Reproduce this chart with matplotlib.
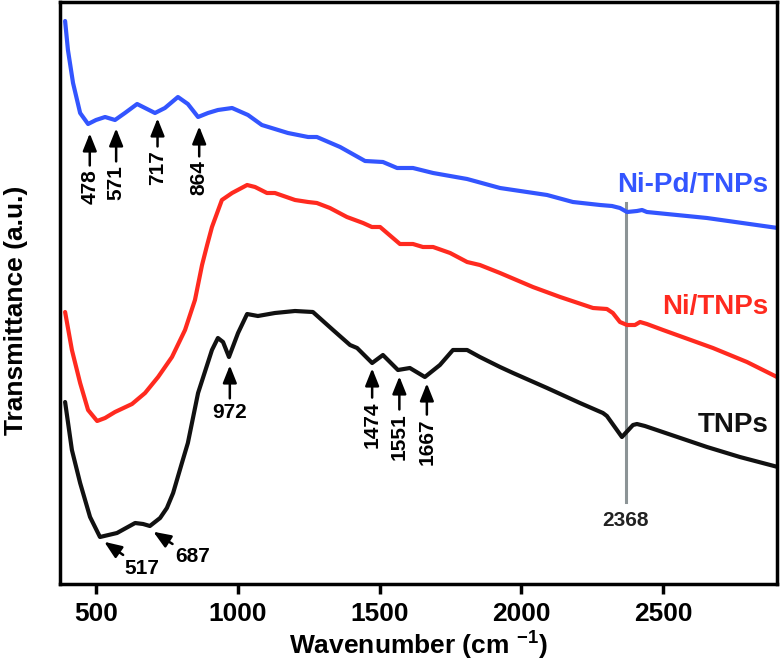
import matplotlib
matplotlib.use("Agg")
import matplotlib.pyplot as plt

plt.rcParams['font.family'] = ['Liberation Sans', 'DejaVu Sans']
plt.rcParams['font.weight'] = 'bold'
plt.rcParams['mathtext.fontset'] = 'custom'
plt.rcParams['mathtext.rm'] = 'Liberation Sans:bold'
plt.rcParams['mathtext.bf'] = 'Liberation Sans:bold'
plt.rcParams['mathtext.default'] = 'bf'

# ---- data (wavenumber, transmittance in arbitrary units) ----
nipd_x = [391, 401, 419, 444, 472, 500, 532, 567, 602, 645, 680, 708, 743, 789, 824, 860,
          895, 930, 980, 1036, 1085, 1177, 1248, 1279, 1361, 1449, 1512, 1562, 1618, 1689,
          1809, 1925, 2091, 2182, 2278, 2320, 2348, 2373, 2408, 2426, 2443, 2655, 2905]
nipd_y = [563, 534, 501, 471, 460, 464, 467, 464, 471, 480, 475, 471, 476, 487, 480, 467,
          471, 474, 476, 469, 459, 451, 447, 447, 437, 423, 422, 416, 416, 411,
          405, 396, 389, 382, 379, 378, 376, 372, 373, 374, 372, 366, 356]

ni_x = [391, 415, 444, 472, 504, 532, 567, 627, 673, 719, 768, 814, 849, 874, 892, 909,
        944, 980, 1033, 1061, 1103, 1131, 1202, 1248, 1279, 1325, 1385, 1442, 1473, 1502,
        1572, 1618, 1653, 1689, 1749, 1809, 1854, 1925, 2041, 2137, 2253, 2302, 2323, 2348,
        2373, 2401, 2419, 2443, 2500, 2676, 2796, 2902]
ni_y = [272, 234, 201, 174, 163, 166, 172, 180, 191, 207, 227, 254, 284, 319, 339, 357,
        384, 391, 399, 397, 391, 391, 384, 382, 381, 376, 367, 361, 357, 357,
        340, 340, 337, 337, 331, 322, 319, 311, 297, 287, 276, 275, 271, 262,
        259, 259, 262, 260, 254, 236, 222, 207]

tnp_x = [391, 415, 444, 479, 514, 574, 638, 666, 690, 726, 750, 772, 803, 824, 860, 909,
         930, 948, 969, 1001, 1033, 1071, 1131, 1202, 1265, 1336, 1396, 1421, 1474, 1512,
         1565, 1607, 1660, 1713, 1759, 1809, 1854, 1925, 1971, 2091, 2207, 2288, 2302,
         2355, 2394, 2408, 2436, 2655, 2771, 2905]
tnp_y = [182, 134, 101, 67, 47, 51, 61, 60, 58, 66, 76, 91, 121, 141, 191, 234,
         246, 242, 227, 251, 270, 268, 271, 273, 272, 254, 239, 236, 221, 229,
         214, 216, 207, 219, 234, 234, 227, 217, 211, 196, 181, 171, 168,
         147, 159, 160, 158, 137, 127, 117]

series_names = ['Ni-Pd/TNPs', 'Ni/TNPs', 'TNPs']
series_colors = ['#3355ff', '#ff2a1f', '#111111']
series_label_y = [399, 277, 159]

# vertical peak labels on the Ni-Pd/TNPs curve
pd_peak_x = [478, 571, 717, 864]
pd_peak_tip = [452, 457, 467, 459]
pd_peak_text_y = [397, 401, 416, 406]

# vertical peak labels on the TNPs curve
t_peak_lbl = ['1474', '1551', '1667']
t_peak_x = [1474, 1570, 1667]
t_peak_tip = [217, 209, 202]
t_peak_text_y = [159, 147, 142]

# 972 label
p972_x, p972_tip, p972_text_y = 972, 220, 172
# diagonal labels
diag_lbl = ['517', '687']
diag_tip = [(525, 43), (698, 53)]
diag_text = [(662, 16), (842, 27)]

# 2368 guide line
guide_x = 2368
guide_y = [82, 381]
guide_text_y = 64

xticks = [500, 1000, 1500, 2000, 2500]

fig = plt.figure(figsize=(7.8, 6.68), dpi=100)
ax = fig.add_axes([60/780, 84/668, 717/780, 582/668])

ax.plot([guide_x, guide_x], guide_y, color='#8c9496', lw=2.2, zorder=1)
ax.text(guide_x, guide_text_y, '2368', ha='center', va='center', fontsize=15,
        fontweight='bold', color='#222222')

lw = 3.0
for xs, ys, c in [(nipd_x, nipd_y, series_colors[0]), (ni_x, ni_y, series_colors[1]),
                  (tnp_x, tnp_y, series_colors[2])]:
    ax.plot(xs, ys, color=c, lw=lw, solid_joinstyle='round', solid_capstyle='round', zorder=2)

for name, c, yv in zip(series_names, series_colors, series_label_y):
    ax.text(2872, yv, name, color=c, fontsize=20, fontweight='bold', ha='right', va='center')

arrowprops = dict(arrowstyle='-|>,head_length=0.7,head_width=0.28', color='black', lw=1.8,
                  shrinkA=1, shrinkB=1)

fs_ann = 15
for x, tip, ty in zip(pd_peak_x, pd_peak_tip, pd_peak_text_y):
    ax.annotate(str(x), xy=(x, tip), xytext=(x, ty), rotation=90, ha='center', va='center',
                fontsize=fs_ann, fontweight='bold', arrowprops=arrowprops)

for lbl, x, tip, ty in zip(t_peak_lbl, t_peak_x, t_peak_tip, t_peak_text_y):
    ax.annotate(lbl, xy=(x, tip), xytext=(x, ty), rotation=90, ha='center', va='center',
                fontsize=fs_ann, fontweight='bold', arrowprops=arrowprops)

ax.annotate(str(p972_x), xy=(p972_x, p972_tip), xytext=(p972_x, p972_text_y), ha='center',
            va='center', fontsize=fs_ann, fontweight='bold', arrowprops=arrowprops)

for lbl, tip, tx in zip(diag_lbl, diag_tip, diag_text):
    ax.annotate(lbl, xy=tip, xytext=tx, ha='center', va='center', fontsize=fs_ann,
                fontweight='bold', arrowprops=arrowprops)

ax.set_xlim(373, 2902)
ax.set_ylim(0, 582)
ax.set_xticks(xticks)
ax.set_xticklabels([str(t) for t in xticks])
ax.set_yticks([])
ax.tick_params(axis='x', direction='out', length=7, width=2.5, labelsize=19, pad=6)
for lab in ax.get_xticklabels():
    lab.set_fontweight('bold')
for s in ax.spines.values():
    s.set_linewidth(2.5)

ax.set_xlabel(r'Wavenumber (cm $^{-1}$)', fontsize=19, fontweight='bold')
ax.xaxis.set_label_coords(0.50, -0.078)
ax.set_ylabel('Transmittance (a.u.)', fontsize=19, fontweight='bold')
ax.yaxis.set_label_coords(-0.045, 0.47)

fig.savefig('out.png', dpi=100)
